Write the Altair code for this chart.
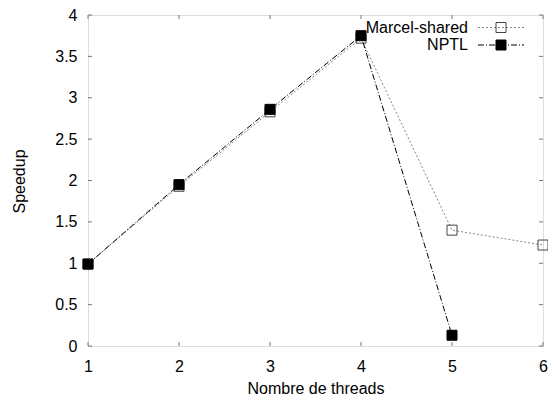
import altair as alt
import pandas as pd

threads_marcel = [1, 2, 3, 4, 5, 6]
speedup_marcel = [0.99, 1.93, 2.83, 3.72, 1.40, 1.22]
threads_nptl = [1, 2, 3, 4, 5]
speedup_nptl = [0.99, 1.95, 2.86, 3.75, 0.13]
series_names = ["Marcel-shared", "NPTL"]
x_ticks = [1, 2, 3, 4, 5, 6]
y_ticks = [0, 0.5, 1, 1.5, 2, 2.5, 3, 3.5, 4]

FONT = "Liberation Sans"
W, H = 455, 331

xs = alt.Scale(domain=[1, 6], nice=False)
ys = alt.Scale(domain=[0, 4], nice=False)
x_axis = alt.Axis(values=x_ticks, title="Nombre de threads", grid=False, domain=False,
                  ticks=False, tickSize=0, labelPadding=12, labelFontSize=16, labelFont=FONT,
                  labelColor="black", titleFont=FONT, titleFontSize=16, titleFontWeight="normal",
                  titleColor="black", titleY=47, titleBaseline="alphabetic", format="d",
                  labelOverlap=False, labelBound=False, labelFlush=False)
y_axis = alt.Axis(values=y_ticks, title="Speedup", grid=False, domain=False,
                  ticks=False, tickSize=0, labelPadding=11, labelFontSize=16, labelFont=FONT,
                  labelColor="black", titleFont=FONT, titleFontSize=16, titleFontWeight="normal",
                  titleColor="black", titleAngle=270, titleX=-64, titleY=166,
                  titleAlign="center", titleBaseline="alphabetic", format="~g",
                  labelOverlap=False, labelFlush=False)

df_m = pd.DataFrame({"threads": threads_marcel, "speedup": speedup_marcel, "series": series_names[0]})
df_n = pd.DataFrame({"threads": threads_nptl, "speedup": speedup_nptl, "series": series_names[1]})

styles = {
    series_names[0]: dict(color="#888888", dash=[2, 2], mstroke="#444444", mfill="transparent"),
    series_names[1]: dict(color="#000000", dash=[6, 2, 1, 2], mstroke="#000000", mfill="#000000"),
}

layers = []
for df, name in [(df_m, series_names[0]), (df_n, series_names[1])]:
    st = styles[name]
    line = alt.Chart(df).mark_line(color=st["color"], strokeDash=st["dash"], strokeWidth=1).encode(
        x=alt.X("threads:Q", scale=xs, axis=x_axis),
        y=alt.Y("speedup:Q", scale=ys, axis=y_axis),
    )
    pts = alt.Chart(df).mark_point(shape="square", size=100, filled=True, fill=st["mfill"],
                                   stroke=st["mstroke"], strokeWidth=1, opacity=1).encode(
        x=alt.X("threads:Q", scale=xs, axis=x_axis),
        y=alt.Y("speedup:Q", scale=ys, axis=y_axis),
    )
    layers += [line, pts]

# inside tick marks (gnuplot style, mirrored)
df_yt = pd.DataFrame({"speedup": y_ticks})
df_xt = pd.DataFrame({"threads": x_ticks})
tick_col = "#777777"
yt_left = alt.Chart(df_yt).mark_rule(color=tick_col).encode(
    y=alt.Y("speedup:Q", scale=ys, axis=y_axis), x=alt.value(0), x2=alt.value(4))
yt_right = alt.Chart(df_yt).mark_rule(color=tick_col).encode(
    y=alt.Y("speedup:Q", scale=ys, axis=y_axis), x=alt.value(W - 4), x2=alt.value(W))
xt_bottom = alt.Chart(df_xt).mark_rule(color=tick_col).encode(
    x=alt.X("threads:Q", scale=xs, axis=x_axis), y=alt.value(H - 4), y2=alt.value(H))
xt_top = alt.Chart(df_xt).mark_rule(color=tick_col).encode(
    x=alt.X("threads:Q", scale=xs, axis=x_axis), y=alt.value(0), y2=alt.value(4))

# manual gnuplot-like legend
legend_layers = []
row_y = [12.5, 30]
for i, name in enumerate(series_names):
    st = styles[name]
    dl = pd.DataFrame({"series": [name]})
    txt = alt.Chart(dl).mark_text(align="right", baseline="middle", font=FONT, fontSize=16,
                                  color="black").encode(
        text="series:N", x=alt.value(380), y=alt.value(row_y[i]))
    seg = alt.Chart(dl).mark_rule(color=st["color"], strokeDash=st["dash"], strokeWidth=1).encode(
        x=alt.value(390), x2=alt.value(436), y=alt.value(row_y[i]))
    mk = alt.Chart(dl).mark_point(shape="square", size=100, filled=True, fill=st["mfill"],
                                  stroke=st["mstroke"], strokeWidth=1, opacity=1).encode(
        x=alt.value(413), y=alt.value(row_y[i]))
    legend_layers += [seg, mk, txt]

chart = alt.layer(yt_left, yt_right, xt_bottom, xt_top, *layers, *legend_layers).properties(
    width=W, height=H,
    autosize=alt.AutoSizeParams(type="none"),
    padding={"left": 80, "top": 7, "right": 5, "bottom": 51},
).configure_view(stroke="black", strokeWidth=1).configure(background="white")

chart.save("out.html", embed_options={"renderer": "svg", "actions": False})
